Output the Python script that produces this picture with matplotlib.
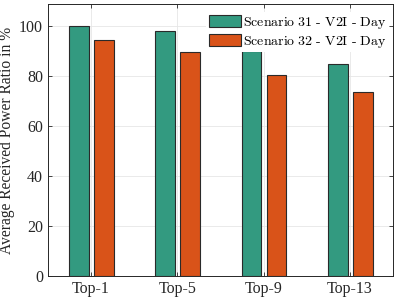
import matplotlib
matplotlib.use("Agg")
import matplotlib.pyplot as plt
import numpy as np

# data
categories = ["Top-1", "Top-5", "Top-9", "Top-13"]
scenario31 = [100.0, 98.0, 90.1, 84.9]
scenario32 = [94.5, 89.6, 80.6, 73.7]
labels = [r"$\mathrm{Scenario\ 31\ \text{-}\ V2I\ \text{-}\ Day}$",
          r"$\mathrm{Scenario\ 32\ \text{-}\ V2I\ \text{-}\ Day}$"]

plt.rcParams["font.family"] = ["Liberation Serif", "DejaVu Serif"]
plt.rcParams["mathtext.fontset"] = "cm"

fig = plt.figure(figsize=(3.99, 3.01), dpi=100)
ax = fig.add_axes([48 / 399, 25 / 301, 345 / 399, 272 / 301])

x = np.arange(1, len(categories) + 1)
w = 0.23
ax.bar(x - 0.14, scenario31, w, color="#339A80", edgecolor="#2a2a2a",
       linewidth=0.8, label=labels[0], zorder=3)
ax.bar(x + 0.15, scenario32, w, color="#D95319", edgecolor="#2a2a2a",
       linewidth=0.8, label=labels[1], zorder=3)

ax.set_xlim(0.5, 4.5)
ax.set_ylim(0, 109)
ax.set_xticks(x)
ax.set_xticklabels(categories)
ax.set_yticks([0, 20, 40, 60, 80, 100])
ax.tick_params(direction="in", top=True, right=True, labelsize=11.5,
               length=3, width=0.6, color="#262626", labelcolor="#262626")
ax.grid(True, color="#e6e6e6", linewidth=0.6, zorder=0)
for s in ax.spines.values():
    s.set_color("#262626")
    s.set_linewidth(0.7)

ax.set_ylabel("Average Received Power Ratio in %", fontsize=11.2,
              color="#262626", labelpad=3)

# legend: white background, no border (as in the reference)
leg = ax.legend(loc="upper left", bbox_to_anchor=(206 / 399, 1 - 12 / 301),
                bbox_transform=fig.transFigure, borderaxespad=0,
                fontsize=10, fancybox=False, facecolor="white",
                edgecolor="none", framealpha=1, borderpad=0.2,
                handlelength=2.3, handleheight=0.9, handletextpad=0.15,
                labelspacing=0.2)

fig.savefig("out.png", dpi=100)
